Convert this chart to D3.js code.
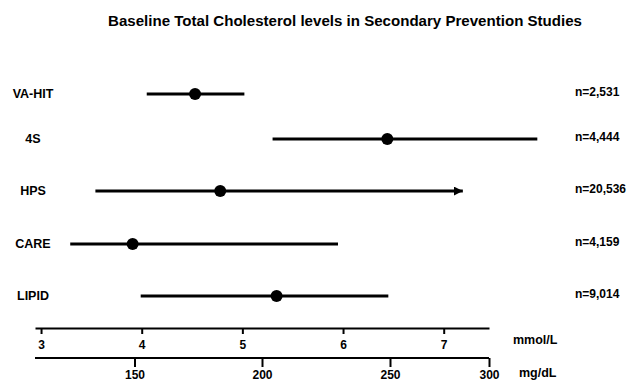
<!DOCTYPE html>
<html>
<head>
<meta charset="utf-8">
<script src="https://cdn.jsdelivr.net/npm/d3@7"></script>
<style>
  body { margin: 0; background: #fff; }
  svg text { font-family: "Liberation Sans", Arial, Helvetica, sans-serif; font-weight: bold; fill: #000; }
</style>
</head>
<body>
<div id="chart"></div>
<script>
const width = 628;
const height = 383;

// baseline total cholesterol, mmol/L (range low, mean, range high)
const studies  = ['VA-HIT', '4S', 'HPS', 'CARE', 'LIPID'];
const lows     = [4.05, 5.30, 3.54, 3.29, 3.99];
const means    = [4.53, 6.44, 4.78, 3.91, 5.34];
const highs    = [5.02, 7.93, 7.19, 5.95, 6.45];
const openEnd  = [false, false, true, false, false];
const nLabels  = ['n=2,531', 'n=4,444', 'n=20,536', 'n=4,159', 'n=9,014'];

const mmolTicks = [3, 4, 5, 6, 7];
const mgTicks   = [150, 200, 250, 300];

const data = studies.map((s, i) => ({
  study: s, lo: lows[i], mean: means[i], hi: highs[i], arrow: openEnd[i], n: nLabels[i]
}));

const svg = d3.select('#chart')
  .append('svg')
  .attr('width', width)
  .attr('height', height);

const x = d3.scaleLinear()
  .domain([2.94, 7.45])
  .range([35, 489]);

// the printed mg/dL axis is not spaced evenly, so follow its tick marks
const x2 = d3.scaleLinear()
  .domain(mgTicks)
  .range([134.5, 262, 390, 489]);

const y = d3.scaleOrdinal()
  .domain(studies)
  .range([94, 139, 191, 244, 296]);

// title
svg.append('text')
  .attr('x', 345)
  .attr('y', 26)
  .attr('text-anchor', 'middle')
  .attr('font-size', 15)
  .attr('textLength', 474)
  .attr('lengthAdjust', 'spacingAndGlyphs')
  .text('Baseline Total Cholesterol levels in Secondary Prevention Studies');

svg.append('defs').append('marker')
  .attr('id', 'arrow')
  .attr('viewBox', '0 0 10 10')
  .attr('refX', 10)
  .attr('refY', 5)
  .attr('markerUnits', 'userSpaceOnUse')
  .attr('markerWidth', 9)
  .attr('markerHeight', 9)
  .attr('orient', 'auto')
  .append('path')
    .attr('d', 'M0,0L10,5L0,10Z')
    .attr('fill', '#000');

const rows = svg.selectAll('.row')
  .data(data)
  .join('g')
    .attr('class', 'row');

rows.append('line')
  .attr('x1', d => x(d.lo))
  .attr('x2', d => x(d.hi))
  .attr('y1', d => y(d.study))
  .attr('y2', d => y(d.study))
  .attr('stroke', '#000')
  .attr('stroke-width', 3)
  .attr('marker-end', d => d.arrow ? 'url(#arrow)' : null);

rows.append('circle')
  .attr('cx', d => x(d.mean))
  .attr('cy', d => y(d.study))
  .attr('r', 6)
  .attr('fill', '#000');

rows.append('text')
  .attr('x', 33)
  .attr('y', d => y(d.study))
  .attr('dy', '0.35em')
  .attr('text-anchor', 'middle')
  .attr('font-size', 12.5)
  .text(d => d.study);

// n labels: kept just inside the right edge
rows.append('text')
  .attr('x', 575)
  .attr('y', d => y(d.study) - 2)
  .attr('dy', '0.35em')
  .attr('font-size', 12)
  .text(d => d.n);

// mmol/L axis
const axisTop = svg.append('g')
  .attr('transform', 'translate(0,328)')
  .call(d3.axisBottom(x).tickValues(mmolTicks).tickFormat(d3.format('d'))
    .tickSize(6).tickSizeOuter(0).tickPadding(6));

// mg/dL axis
const axisBot = svg.append('g')
  .attr('transform', 'translate(0,358)')
  .call(d3.axisBottom(x2).tickValues(mgTicks).tickFormat(d3.format('d'))
    .tickSize(9).tickSizeOuter(0).tickPadding(3));

axisBot.select('.domain')
  .attr('d', `M${x.range()[0]},0H${x.range()[1]}`);

[axisTop, axisBot].forEach(g => {
  g.select('.domain').attr('stroke-width', 2);
  g.selectAll('.tick line').attr('stroke-width', 2);
  g.selectAll('.tick text')
    .attr('font-size', 12)
    .attr('font-family', '"Liberation Sans", Arial, sans-serif')
    .attr('font-weight', 'bold');
});

svg.append('text')
  .attr('x', 513)
  .attr('y', 340)
  .attr('dy', '0.35em')
  .attr('font-size', 12.5)
  .text('mmol/L');

svg.append('text')
  .attr('x', 519)
  .attr('y', 373)
  .attr('dy', '0.35em')
  .attr('font-size', 12.5)
  .text('mg/dL');
</script>
</body>
</html>
